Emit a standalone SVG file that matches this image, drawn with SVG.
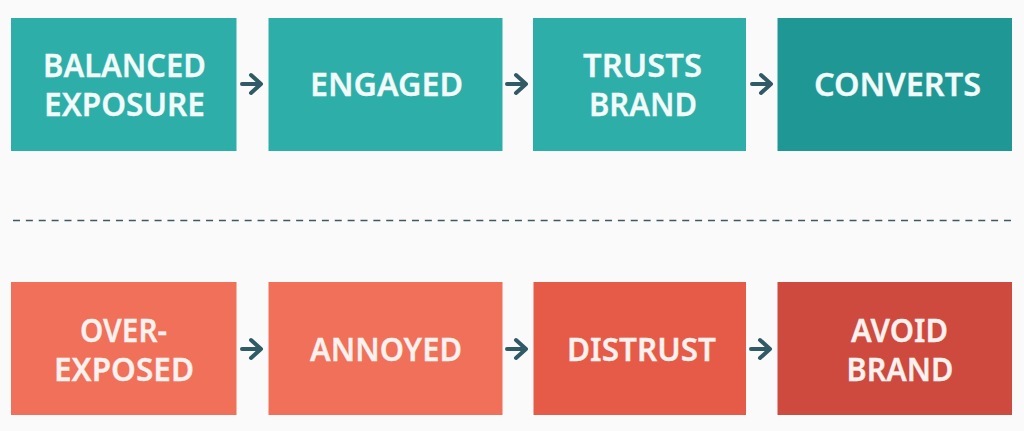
<svg xmlns="http://www.w3.org/2000/svg" width="1024" height="431" viewBox="0 0 1024 431">
<style>
.n{font-family:"Noto Sans","Open Sans",sans-serif;font-size:32px;font-weight:600;fill:#f2fafa;stroke:#f2fafa;stroke-width:.3;text-anchor:middle}
.r{fill:#fbf1ee;stroke:#fbf1ee}
.a{fill:none;stroke:#2f5a66;stroke-width:4;stroke-linecap:round;stroke-linejoin:round}
</style>
<rect width="1024" height="431" fill="#fafafb"/>
<g id="connectors">
<line x1="13" y1="220.500" x2="1012" y2="220.500" stroke="#3f5862" stroke-width="1.500" stroke-dasharray="7 5.870"/>
<path id="a1" class="a" d="M242 84H260M251 75L261 84L251 93"/>
<path id="a2" class="a" d="M507 84H525M516 75L526 84L516 93"/>
<path id="a3" class="a" d="M752 84H770M761 75L771 84L761 93"/>
<path id="a4" class="a" d="M242 349H260M251 340L261 349L251 358"/>
<path id="a5" class="a" d="M507 349H525M516 340L526 349L516 358"/>
<path id="a6" class="a" d="M751 349H769M760 340L770 349L760 358"/>
</g>
<g id="balanced"><rect x="11" y="18" width="225.500" height="133" fill="#2eaea8"/><text class="n" x="124.500" y="77" textLength="163" lengthAdjust="spacingAndGlyphs">BALANCED</text><text class="n" x="124.500" y="116" textLength="161" lengthAdjust="spacingAndGlyphs">EXPOSURE</text></g>
<g id="engaged"><rect x="268.500" y="18" width="234" height="133" fill="#2eaea8"/><text class="n" x="386.500" y="96" textLength="153" lengthAdjust="spacingAndGlyphs">ENGAGED</text></g>
<g id="trusts"><rect x="533" y="18" width="213" height="133" fill="#2eaea8"/><text class="n" x="642.500" y="77" textLength="119" lengthAdjust="spacingAndGlyphs">TRUSTS</text><text class="n" x="643" y="116" textLength="108" lengthAdjust="spacingAndGlyphs">BRAND</text></g>
<g id="converts"><rect x="777.500" y="18" width="234.500" height="133" fill="#1f9795"/><text class="n" x="897.500" y="96" textLength="167" lengthAdjust="spacingAndGlyphs">CONVERTS</text></g>
<g id="overexposed"><rect x="11" y="282" width="225.500" height="133" fill="#f07059"/><text class="n r" x="123.500" y="341.500" textLength="87" lengthAdjust="spacingAndGlyphs">OVER-</text><text class="n r" x="124" y="380.500" textLength="140" lengthAdjust="spacingAndGlyphs">EXPOSED</text></g>
<g id="annoyed"><rect x="268.500" y="282" width="234" height="133" fill="#f07059"/><text class="n r" x="386" y="360.500" textLength="152" lengthAdjust="spacingAndGlyphs">ANNOYED</text></g>
<g id="distrust"><rect x="533.500" y="282" width="212.500" height="133" fill="#e65a48"/><text class="n r" x="641.500" y="360.500" textLength="149" lengthAdjust="spacingAndGlyphs">DISTRUST</text></g>
<g id="avoid"><rect x="777.500" y="282" width="234.500" height="133" fill="#ce4a3e"/><text class="n r" x="899.500" y="341.500" textLength="97" lengthAdjust="spacingAndGlyphs">AVOID</text><text class="n r" x="900" y="380.500" textLength="107" lengthAdjust="spacingAndGlyphs">BRAND</text></g>
</svg>
